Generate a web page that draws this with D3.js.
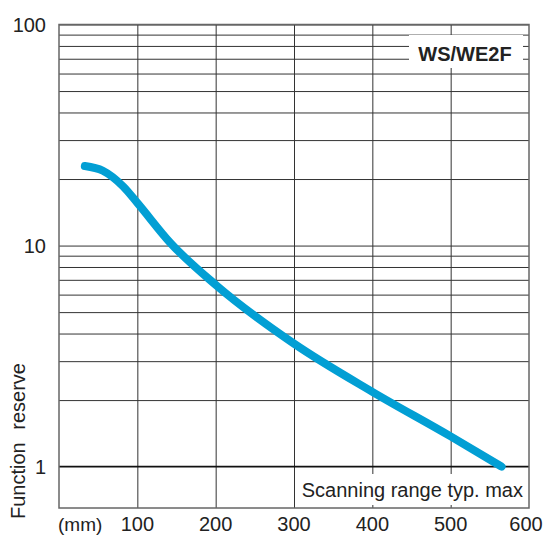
<!DOCTYPE html>
<html>
<head>
<meta charset="utf-8">
<script src="https://cdn.jsdelivr.net/npm/d3@7"></script>
<style>
  body { margin: 0; background: #fff; }
  text { font-family: "Liberation Sans", Arial, sans-serif; fill: #222; }
  .grid line { stroke: #333; stroke-width: 1; }
  .grid path { display: none; }
</style>
</head>
<body>
<div id="chart"></div>
<script>
// datos
var distancia = [33, 56, 82, 100, 142, 201, 300, 400, 500, 565];
var reserva = [22.9, 21.8, 18.5, 15.6, 10.3, 6.6, 3.6, 2.18, 1.37, 1.0];
var xTicks = [100, 200, 300, 400, 500, 600];
var xGrid = [100, 200, 300, 400, 500];
var yTicks = [1, 10, 100];
var yGrid = [2, 3, 4, 5, 6, 7, 8, 9, 10, 20, 30, 40, 50, 60, 70, 80, 90, 100];

const w = 546, h = 536;
const margin = ({ top: 24.5, right: 17, bottom: 28, left: 59 });

const svg = d3.select("#chart")
    .append("svg")
    .attr("width", w)
    .attr("height", h);

const xScale = d3.scaleLinear()
    .domain([0, 600])
    .range([margin.left, w - margin.right]);

const yScale = d3.scaleLog()
    .domain([0.65, 100])
    .range([h - margin.bottom, margin.top]);

// rejilla
svg.append("g")
    .attr("class", "grid")
    .attr("transform", `translate(${margin.left},0)`)
    .call(d3.axisLeft(yScale).tickValues(yGrid).tickSize(-(xScale.range()[1] - margin.left)).tickFormat(""));

svg.append("g")
    .attr("class", "grid")
    .attr("transform", `translate(0,${h - margin.bottom})`)
    .call(d3.axisBottom(xScale).tickValues(xGrid).tickSize(-(h - margin.bottom - margin.top)).tickFormat(""));

// linea del 1
svg.append("line")
    .attr("x1", xScale(0)).attr("x2", xScale(600))
    .attr("y1", yScale(1)).attr("y2", yScale(1))
    .attr("stroke", "#111").attr("stroke-width", 1.6);

// marco
svg.append("rect")
    .attr("x", xScale(0)).attr("y", yScale(100))
    .attr("width", xScale(600) - xScale(0))
    .attr("height", yScale(0.65) - yScale(100))
    .attr("fill", "none").attr("stroke", "#666").attr("stroke-width", 1.5);

// etiquetas eje y
svg.append("g")
    .selectAll("text")
    .data(yTicks)
    .enter()
    .append("text")
    .attr("x", margin.left - 13)
    .attr("y", d => yScale(d))
    .attr("dy", "0.36em")
    .style("text-anchor", "end")
    .style("font-size", "20px")
    .text(d => d);

// etiquetas eje x
svg.append("g")
    .selectAll("text")
    .data(xTicks)
    .enter()
    .append("text")
    .attr("x", d => xScale(d) - (d == 600 ? 3 : 0))
    .attr("y", h - 5)
    .style("text-anchor", "middle")
    .style("font-size", "20px")
    .text(d => d);

svg.append("text")
    .attr("x", margin.left - 1)
    .attr("y", h - 5)
    .style("font-size", "19px")
    .text("(mm)");

svg.append("text")
    .attr("transform", `translate(25,${441}) rotate(-90)`)
    .style("text-anchor", "middle")
    .style("font-size", "20px")
    .style("word-spacing", "7px")
    .text("Function reserve");

// caja Scanning range
svg.append("rect")
    .attr("x", 298).attr("y", 474)
    .attr("width", 228).attr("height", 31)
    .attr("fill", "#fff");
svg.append("text")
    .attr("x", xScale(600) - 6)
    .attr("y", 497)
    .style("text-anchor", "end")
    .style("font-size", "20px")
    .text("Scanning range typ. max");

// caja modelo
svg.append("rect")
    .attr("x", 409).attr("y", 35)
    .attr("width", 114).attr("height", 33)
    .attr("fill", "#fff");
svg.append("text")
    .attr("x", 465)
    .attr("y", 61)
    .style("text-anchor", "middle")
    .style("font-size", "20px")
    .style("font-weight", "bold")
    .text("WS/WE2F");

// curva
const datos = distancia.map((d, i) => ({ x: d, y: reserva[i] }));
const linea = d3.line()
    .x(d => xScale(d.x))
    .y(d => yScale(d.y))
    .curve(d3.curveMonotoneX);

svg.append("path")
    .datum(datos)
    .attr("d", linea)
    .attr("fill", "none")
    .attr("stroke", "#029fd4")
    .attr("stroke-width", 8)
    .attr("stroke-linecap", "round");
</script>
</body>
</html>
